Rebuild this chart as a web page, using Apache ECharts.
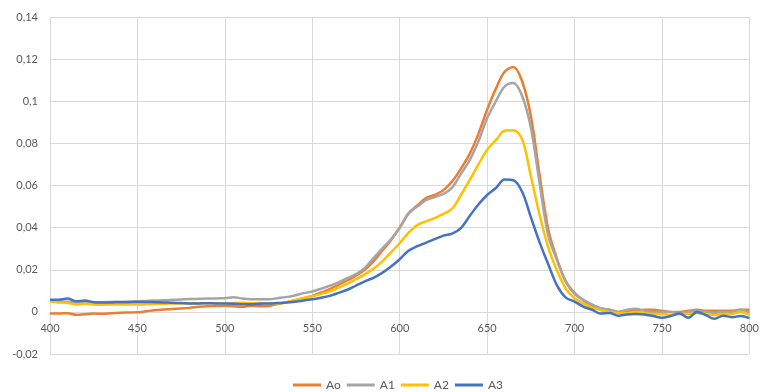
<!DOCTYPE html>
<html>
<head>
<meta charset="utf-8">
<script src="https://cdn.jsdelivr.net/npm/echarts@6/dist/echarts.min.js"></script>
<style>html,body{margin:0;padding:0;background:#fff}#c{width:762px;height:392px}</style>
</head>
<body>
<div id="c"></div>
<script>
// wavelengths (nm), 5 nm step
var wavelengths = [400,405,410,415,420,425,430,435,440,445,450,455,460,465,470,475,480,485,490,495,500,505,510,515,520,525,530,535,540,545,550,555,560,565,570,575,580,585,590,595,600,605,610,615,620,625,630,635,640,645,650,655,660,665,670,675,680,685,690,695,700,705,710,715,720,725,730,735,740,745,750,755,760,765,770,775,780,785,790,795,800];
var seriesNames = ['Ao','A1','A2','A3'];
var Ao = [-0.0008,-0.0008,-0.0006,-0.0014,-0.0011,-0.0008,-0.0009,-0.0006,-0.0004,-0.0003,-0.0002,0.0003,0.0008,0.0011,0.0014,0.0016,0.0019,0.0024,0.0027,0.0028,0.0029,0.0027,0.0024,0.0029,0.0027,0.0028,0.0037,0.0045,0.0055,0.0065,0.0076,0.0092,0.0108,0.0128,0.0149,0.0172,0.0200,0.0240,0.0290,0.0340,0.0400,0.0468,0.0505,0.0540,0.0555,0.0578,0.0620,0.0680,0.0750,0.0845,0.0960,0.1060,0.1140,0.1163,0.1095,0.0930,0.0650,0.0390,0.0250,0.0145,0.0090,0.0055,0.0030,0.0015,0.0010,0.0000,0.0005,0.0005,0.0010,0.0010,0.0005,0.0000,0.0000,0.0005,0.0010,0.0005,0.0005,0.0005,0.0005,0.0010,0.0010];
var A1 = [0.0050,0.0050,0.0048,0.0045,0.0046,0.0045,0.0046,0.0047,0.0048,0.0049,0.0050,0.0052,0.0054,0.0055,0.0057,0.0059,0.0061,0.0062,0.0063,0.0064,0.0065,0.0070,0.0063,0.0060,0.0060,0.0060,0.0065,0.0070,0.0078,0.0089,0.0097,0.0110,0.0124,0.0140,0.0160,0.0180,0.0208,0.0255,0.0300,0.0345,0.0400,0.0465,0.0500,0.0530,0.0545,0.0560,0.0590,0.0655,0.0720,0.0810,0.0920,0.1000,0.1070,0.1087,0.1025,0.0875,0.0610,0.0360,0.0245,0.0142,0.0085,0.0057,0.0035,0.0018,0.0010,0.0000,0.0010,0.0015,0.0005,0.0000,0.0000,0.0000,-0.0005,0.0000,0.0005,0.0000,-0.0005,0.0000,0.0000,0.0010,-0.0005];
var A2 = [0.0049,0.0045,0.0043,0.0035,0.0040,0.0035,0.0034,0.0035,0.0035,0.0035,0.0035,0.0036,0.0037,0.0039,0.0040,0.0040,0.0041,0.0041,0.0041,0.0041,0.0040,0.0042,0.0043,0.0041,0.0042,0.0040,0.0040,0.0045,0.0055,0.0065,0.0074,0.0085,0.0097,0.0115,0.0133,0.0155,0.0178,0.0205,0.0240,0.0282,0.0327,0.0375,0.0412,0.0430,0.0445,0.0465,0.0490,0.0555,0.0625,0.0700,0.0770,0.0815,0.0860,0.0862,0.0820,0.0645,0.0460,0.0305,0.0195,0.0110,0.0065,0.0040,0.0020,0.0008,0.0000,-0.0005,-0.0005,0.0000,-0.0005,-0.0010,-0.0010,-0.0015,-0.0010,-0.0010,-0.0005,-0.0010,-0.0015,-0.0010,-0.0010,0.0000,-0.0015];
var A3 = [0.0057,0.0058,0.0063,0.0050,0.0054,0.0046,0.0045,0.0045,0.0046,0.0046,0.0047,0.0047,0.0046,0.0045,0.0043,0.0042,0.0040,0.0040,0.0041,0.0040,0.0040,0.0039,0.0036,0.0036,0.0039,0.0040,0.0042,0.0044,0.0048,0.0054,0.0060,0.0067,0.0076,0.0090,0.0105,0.0125,0.0145,0.0162,0.0185,0.0215,0.0250,0.0290,0.0312,0.0328,0.0345,0.0362,0.0372,0.0398,0.0455,0.0510,0.0555,0.0588,0.0628,0.0625,0.0570,0.0450,0.0330,0.0225,0.0125,0.0068,0.0049,0.0025,0.0010,-0.0008,-0.0005,-0.0018,-0.0012,-0.0010,-0.0012,-0.0020,-0.0028,-0.0020,-0.0008,-0.0028,0.0000,-0.0015,-0.0033,-0.0018,-0.0025,-0.0020,-0.0030];
var colors = ['#ED7D31','#A5A5A5','#FFC000','#4472C4'];
var yTicks = {min:-0.02, max:0.14, interval:0.02};
var xTicks = {min:400, max:800, interval:50};

function pairs(vals){ return wavelengths.map(function(w,i){ return [w, vals[i]]; }); }
var allVals = [Ao, A1, A2, A3];

var chart = echarts.init(document.getElementById('c'), null, {renderer:'canvas'});
chart.setOption({
  animation: false,
  color: colors,
  textStyle: {fontFamily: 'Lato'},
  grid: {left: 50, right: 4, top: 17, bottom: 38},
  legend: {
    left: 293, top: 379, padding: 0,
    icon: 'rect', itemWidth: 28, itemHeight: 3, itemGap: 6,
    textStyle: {fontFamily: 'Lato', fontSize: 12, color: '#595959'},
    data: seriesNames
  },
  xAxis: {
    type: 'value', min: xTicks.min, max: xTicks.max, interval: xTicks.interval,
    position: 'bottom', offset: -42,
    axisLine: {show: true, onZero: false, lineStyle: {color: '#D9D9D9', width: 1}},
    axisTick: {show: false},
    axisLabel: {color: '#595959', fontSize: 11, margin: 11, fontFamily: 'Lato'},
    splitLine: {show: true, lineStyle: {color: '#D9D9D9', width: 1}}
  },
  yAxis: {
    type: 'value', min: yTicks.min, max: yTicks.max, interval: yTicks.interval,
    axisLine: {show: false}, axisTick: {show: false},
    axisLabel: {color: '#595959', fontSize: 11, margin: 12, fontFamily: 'Lato',
      formatter: function(v){ return String(parseFloat(v.toFixed(2))).replace('.', ','); }},
    splitLine: {show: true, lineStyle: {color: '#D9D9D9', width: 1}}
  },
  series: seriesNames.map(function(n, i){
    return {
      name: n, type: 'line', data: pairs(allVals[i]),
      showSymbol: false, symbol: 'none', smooth: 0.35,
      lineStyle: {width: 2.5, color: colors[i]},
      itemStyle: {color: colors[i]}
    };
  })
});
</script>
</body>
</html>
